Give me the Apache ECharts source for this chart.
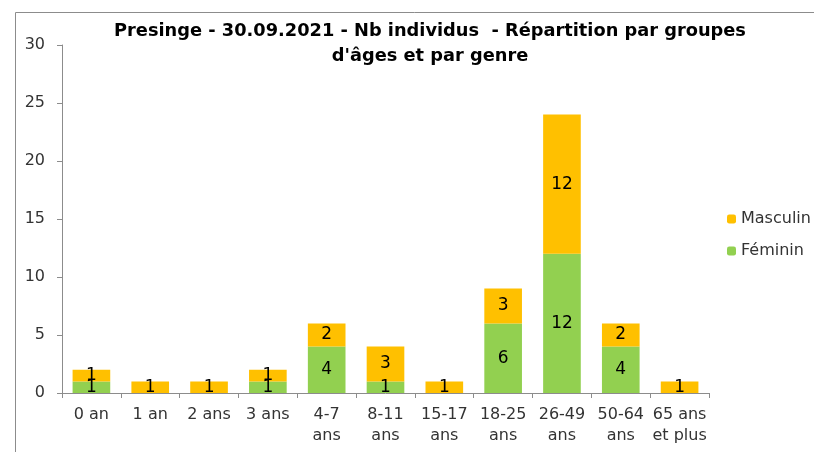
<!DOCTYPE html>
<html>
<head>
<meta charset="utf-8">
<script src="https://cdn.jsdelivr.net/npm/echarts@6/dist/echarts.min.js"></script>
<style>
  html, body { margin: 0; padding: 0; background: #fff; }
  #chart { width: 814px; height: 452px; }
</style>
</head>
<body>
<div id="chart"></div>
<script>
// données
const categories = ['0 an', '1 an', '2 ans', '3 ans', '4-7\nans', '8-11\nans', '15-17\nans', '18-25\nans', '26-49\nans', '50-64\nans', '65 ans\net plus']
const feminin = [1, 0, 0, 1, 4, 1, 0, 6, 12, 4, 0]
const masculin = [1, 1, 1, 1, 2, 3, 1, 3, 12, 2, 1]
const yTicks = [0, 5, 10, 15, 20, 25, 30]

const font = 'DejaVu Sans'
const chart = echarts.init(document.getElementById('chart'), null, { renderer: 'canvas' })

// n'affiche pas les zéros
const labelCfg = {
  show: true,
  position: 'inside',
  color: '#000',
  fontFamily: font,
  fontSize: 17,
  formatter: (p) => (p.value ? String(p.value) : '')
}

const option = {
  animation: false,
  textStyle: { fontFamily: font },
  graphic: [
    {
      type: 'polyline',
      shape: { points: [[15.5, 452], [15.5, 12.5], [814, 12.5]] },
      style: { stroke: '#8c8c8c', lineWidth: 1, fill: null }
    },
    {
      type: 'text',
      x: 430,
      y: 19,
      style: {
        text: 'Presinge - 30.09.2021 - Nb individus  - Répartition par groupes\nd\'âges et par genre',
        align: 'center',
        fontFamily: font,
        fontWeight: 'bold',
        fontSize: 17.8,
        lineHeight: 25,
        fill: '#000'
      }
    }
  ],
  legend: {
    orient: 'vertical',
    left: 722,
    top: 206,
    itemWidth: 9,
    itemHeight: 9,
    itemGap: 16,
    data: ['Masculin', 'Féminin'],
    textStyle: { fontFamily: font, fontSize: 16, color: '#333' }
  },
  grid: { left: 62, top: 45, right: 105, bottom: 59 },
  xAxis: {
    type: 'category',
    data: categories,
    axisLine: { lineStyle: { color: '#8c8c8c' } },
    axisTick: { show: true, length: 5, lineStyle: { color: '#8c8c8c' } },
    axisLabel: { fontFamily: font, fontSize: 16, color: '#333', margin: 11, lineHeight: 21, interval: 0 }
  },
  yAxis: {
    type: 'value',
    min: yTicks[0],
    max: yTicks[yTicks.length - 1],
    interval: yTicks[1] - yTicks[0],
    splitLine: { show: false },
    axisLine: { show: true, lineStyle: { color: '#8c8c8c' } },
    axisTick: { show: true, length: 5, lineStyle: { color: '#8c8c8c' } },
    axisLabel: { fontFamily: font, fontSize: 16, color: '#333', margin: 17 }
  },
  series: [
    {
      name: 'Féminin',
      type: 'bar',
      stack: 'total',
      barWidth: '64%',
      data: feminin,
      itemStyle: { color: '#92d050' },
      label: labelCfg
    },
    {
      name: 'Masculin',
      type: 'bar',
      stack: 'total',
      barWidth: '64%',
      data: masculin,
      itemStyle: { color: '#ffc000' },
      label: labelCfg
    }
  ]
}

chart.setOption(option)
</script>
</body>
</html>
